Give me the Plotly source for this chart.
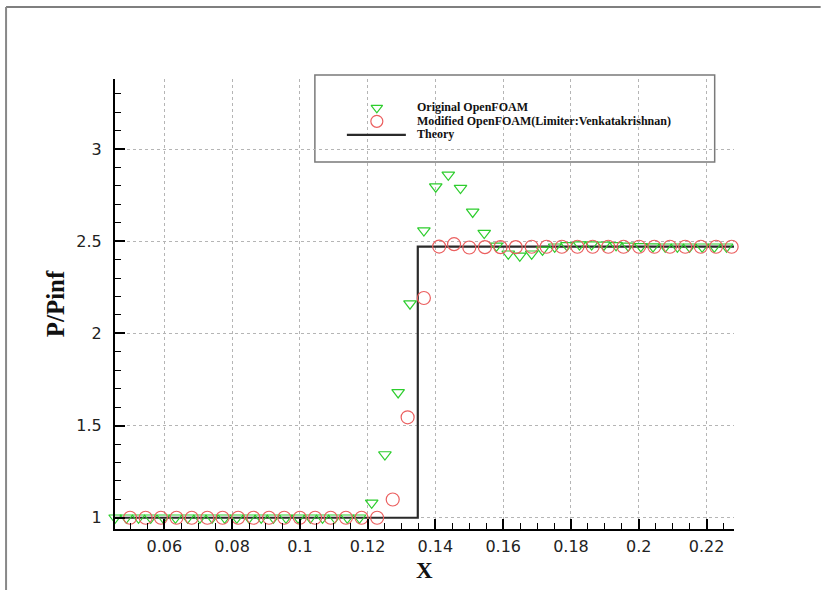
import plotly.graph_objects as go

# ---------------- data ----------------
orig_x = [0.0455, 0.0488, 0.0524, 0.0560, 0.0597, 0.0633, 0.0669, 0.0705, 0.0741, 0.0778,
          0.0814, 0.0850, 0.0886, 0.0922, 0.0959, 0.0995, 0.1031, 0.1067, 0.1103, 0.1140,
          0.1176, 0.1212, 0.1251, 0.1290, 0.1325, 0.1366, 0.1401, 0.1438, 0.1474, 0.1510,
          0.1544, 0.1580, 0.1615, 0.1649, 0.1684, 0.1716, 0.1752, 0.1788, 0.1825, 0.1861,
          0.1897, 0.1933, 0.1969, 0.2006, 0.2042, 0.2078, 0.2114, 0.2150, 0.2187, 0.2223,
          0.2259]
orig_y = [1.0, 1.0, 1.0, 1.0, 1.0, 1.0, 1.0, 1.0, 1.0, 1.0,
          1.0, 1.0, 1.0, 1.0, 1.0, 1.0, 1.0, 1.0, 1.0, 1.0,
          1.0, 1.081, 1.343, 1.680, 2.161, 2.558, 2.796, 2.860, 2.788, 2.659,
          2.544, 2.475, 2.432, 2.421, 2.432, 2.453, 2.470, 2.478, 2.482, 2.482,
          2.480, 2.478, 2.475, 2.472, 2.471, 2.470, 2.470, 2.470, 2.470, 2.470,
          2.470]

mod_x = [0.0454, 0.0499, 0.0545, 0.0590, 0.0636, 0.0681, 0.0727, 0.0772, 0.0818, 0.0863,
         0.0909, 0.0954, 0.1000, 0.1045, 0.1091, 0.1136, 0.1182, 0.1228, 0.1274, 0.1318,
         0.1366, 0.1411, 0.1455, 0.1500, 0.1546, 0.1592, 0.1637, 0.1684, 0.1728, 0.1773,
         0.1819, 0.1864, 0.1910, 0.1955, 0.2001, 0.2046, 0.2092, 0.2137, 0.2183, 0.2228,
         0.2274]
mod_y = [1.0, 1.0, 1.0, 1.0, 1.0, 1.0, 1.0, 1.0, 1.0, 1.0,
         1.0, 1.0, 1.0, 1.0, 1.0, 1.0, 1.0, 1.0, 1.099, 1.545,
         2.192, 2.471, 2.484, 2.466, 2.468, 2.468, 2.468, 2.470, 2.470, 2.470,
         2.470, 2.470, 2.470, 2.470, 2.470, 2.470, 2.470, 2.470, 2.470, 2.470,
         2.470]

theory_x = [0.0455, 0.1348, 0.1348, 0.2281]
theory_y = [1.0, 1.0, 2.471, 2.471]

x_tick_vals = [0.06, 0.08, 0.10, 0.12, 0.14, 0.16, 0.18, 0.20, 0.22]
x_tick_labels = ["0.06", "0.08", "0.1", "0.12", "0.14", "0.16", "0.18", "0.2", "0.22"]
y_tick_vals = [1.0, 1.5, 2.0, 2.5, 3.0]
y_tick_labels = ["1", "1.5", "2", "2.5", "3"]

legend_names = ["Original OpenFOAM",
                "Modified OpenFOAM(Limiter:Venkatakrishnan)",
                "Theory"]

GREEN = "rgb(45,205,45)"
RED = "rgb(235,95,95)"

fig = go.Figure()

fig.add_trace(go.Scatter(x=theory_x, y=theory_y, mode="lines",
                         line=dict(color="#2a2a2a", width=2.2), showlegend=False))
fig.add_trace(go.Scatter(x=orig_x, y=orig_y, mode="markers",
                         marker=dict(symbol="triangle-down-open", size=11,
                                     color=GREEN, line=dict(width=1.2, color=GREEN)),
                         showlegend=False, cliponaxis=False))
fig.add_trace(go.Scatter(x=mod_x, y=mod_y, mode="markers",
                         marker=dict(symbol="circle-open", size=13,
                                     color=RED, line=dict(width=1.2, color=RED)),
                         showlegend=False, cliponaxis=False))

# legend symbols on an overlay axis (0..1 in plot-area fraction)
fig.add_trace(go.Scatter(x=[0.423], y=[0.936], mode="markers", xaxis="x2", yaxis="y2",
                         marker=dict(symbol="triangle-down-open", size=10, color=GREEN,
                                     line=dict(width=1.2, color=GREEN)),
                         showlegend=False, hoverinfo="skip"))
fig.add_trace(go.Scatter(x=[0.423], y=[0.906], mode="markers", xaxis="x2", yaxis="y2",
                         marker=dict(symbol="circle-open", size=12, color=RED,
                                     line=dict(width=1.2, color=RED)),
                         showlegend=False, hoverinfo="skip"))

axis_common = dict(showline=True, linecolor="black", linewidth=2.2, mirror=False,
                   ticks="inside", ticklen=10, tickwidth=2, tickcolor="black",
                   showgrid=True, gridcolor="#b5b5b5", griddash="dot", gridwidth=1,
                   zeroline=False,
                   tickfont=dict(family="DejaVu Sans", size=16, color="#222"))

fig.update_layout(
    width=821, height=590,
    margin=dict(l=115, r=87, t=79, b=61),
    paper_bgcolor="white", plot_bgcolor="white",
    showlegend=False,
    xaxis=dict(range=[0.04546, 0.2281], tickmode="array",
               tickvals=x_tick_vals, ticktext=x_tick_labels,
               minor=dict(tickmode="linear", tick0=0, dtick=0.005, ticks="inside",
                          ticklen=6, tickwidth=1, tickcolor="black", showgrid=False),
               ticklabelstandoff=2,
               **axis_common),
    yaxis=dict(range=[0.939, 3.38], tickmode="array",
               tickvals=y_tick_vals, ticktext=y_tick_labels,
               minor=dict(tickmode="linear", tick0=0, dtick=0.1, ticks="inside",
                          ticklen=6, tickwidth=1, tickcolor="black", showgrid=False),
               ticklabelstandoff=8,
               title=dict(text="<b>P/Pinf</b>", font=dict(family="Liberation Serif", size=25,
                                                          color="#111"), standoff=4),
               **axis_common),
    xaxis2=dict(range=[0, 1], overlaying="x", visible=False, fixedrange=True),
    yaxis2=dict(range=[0, 1], overlaying="y", visible=False, fixedrange=True),
)

# x-axis title as annotation, just below the tick labels
fig.add_annotation(x=0.5, y=-0.093, xref="paper", yref="paper", text="<b>X</b>",
                   showarrow=False, xanchor="center", yanchor="middle",
                   font=dict(family="Liberation Serif", size=23, color="#111"))

# legend box (white, between gridlines and traces)
fig.add_shape(type="rect", xref="paper", yref="paper",
              x0=0.3229, x1=0.9688, y0=0.8156, y1=1.0089,
              line=dict(color="#7a7a7a", width=1.5), fillcolor="white", layer="between")
# theory symbol in legend
fig.add_shape(type="line", xref="paper", yref="paper",
              x0=0.3746, x1=0.4699, y0=0.876, y1=0.876,
              line=dict(color="#2a2a2a", width=2.2), layer="above")

for name, yy in zip(legend_names, [0.937, 0.907, 0.877]):
    fig.add_annotation(x=0.4844, y=yy, xref="paper", yref="paper", text="<b>" + name + "</b>",
                       showarrow=False, xanchor="left", yanchor="middle",
                       font=dict(family="Liberation Serif", size=12, color="#111"))

# page frame (top and left edges)
fig.add_shape(type="line", xref="paper", yref="paper",
              x0=-0.176, x1=1.14, y0=1.16, y1=1.16,
              line=dict(color="#555", width=1.5), layer="above")
fig.add_shape(type="line", xref="paper", yref="paper",
              x0=-0.176, x1=-0.176, y0=1.16, y1=-0.14,
              line=dict(color="#888", width=2), layer="above")

fig.write_html("out.html")
